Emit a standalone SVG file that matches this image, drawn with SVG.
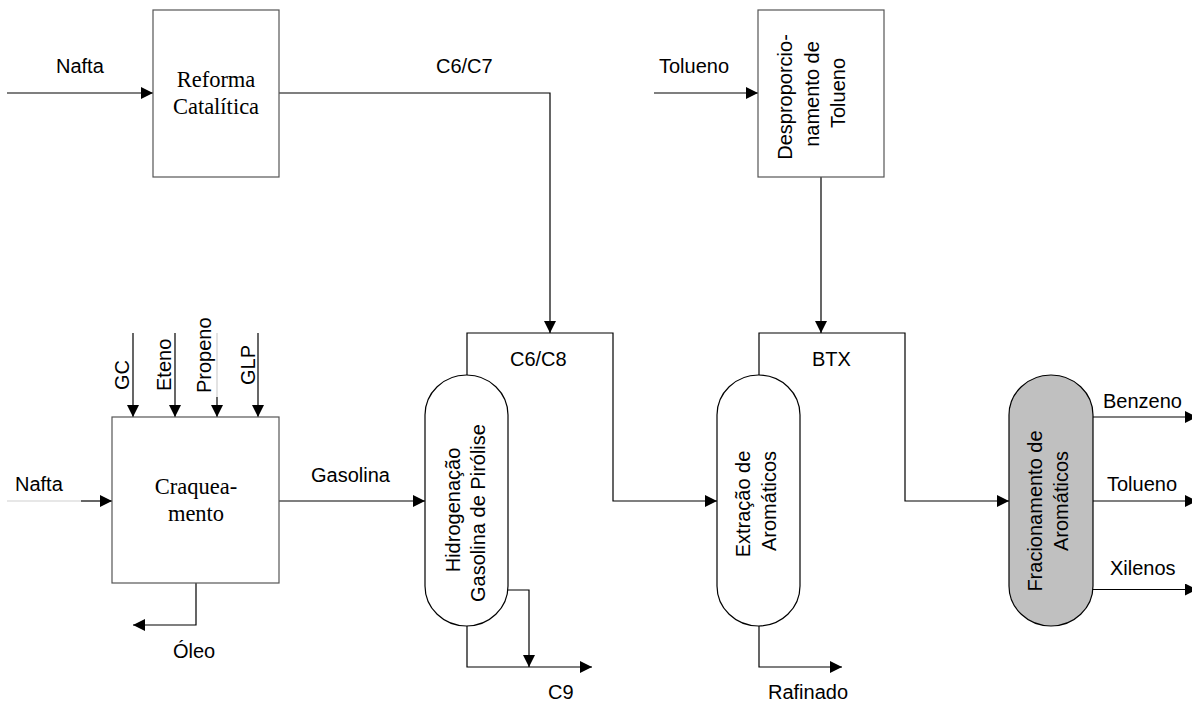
<svg xmlns="http://www.w3.org/2000/svg" width="1192" height="704" viewBox="0 0 1192 704">
  <defs>
    <marker id="arrow" viewBox="0 0 12 12" refX="12" refY="6" markerWidth="12" markerHeight="12" markerUnits="userSpaceOnUse" orient="auto">
      <path d="M0,0 L12,6 L0,12 z" fill="#000"/>
    </marker>
    <style>
      .box { fill: #fff; stroke: #555; stroke-width: 1.2; }
      .pill { fill: #fff; stroke: #000; stroke-width: 1.2; }
      .pill.grey { fill: #c0c0c0; }
      .flow { fill: none; stroke: #000; stroke-width: 1.2; }
      .faint { fill: none; stroke: #d0d0d0; stroke-width: 1.2; }
      .arr { marker-end: url(#arrow); }
      .lbl { font-family: "Liberation Sans", Arial, sans-serif; font-size: 20px; fill: #000; }
      .serif { font-family: "Liberation Serif", "Times New Roman", serif; font-size: 22.5px; fill: #000; text-anchor: middle; }
      .mid { text-anchor: middle; }
    </style>
  </defs>
  <rect width="1192" height="704" fill="#fff"/>

  <!-- process streams -->
  <g id="connectors">
    <path class="flow arr" d="M7,93 H153"/>
    <path class="flow arr" d="M279,93 H550 V333"/>
    <path class="flow arr" d="M654,93 H758"/>
    <path class="flow arr" d="M821,177 V333"/>
    <path class="flow arr" d="M133,333 V417"/>
    <path class="flow arr" d="M175,333 V417"/>
    <path class="faint" d="M217,333 V397"/>
    <path class="flow arr" d="M217,397 V417"/>
    <path class="flow arr" d="M258,333 V417"/>
    <path class="faint" d="M7,501 H81"/>
    <path class="flow arr" d="M81,501 H112"/>
    <path class="flow arr" d="M196,583 V625 H133"/>
    <path class="flow arr" d="M279,501 H425"/>
    <path class="flow arr" d="M467,375 V333 H613 V501 H717"/>
    <path class="flow arr" d="M467,626 V667 H592"/>
    <path class="flow arr" d="M508,590 H529 V667"/>
    <path class="flow arr" d="M759,375 V333 H905 V501 H1009"/>
    <path class="flow arr" d="M759,626 V667 H842"/>
    <path class="flow arr" d="M1093,417 H1197"/>
    <path class="flow arr" d="M1093,501 H1197"/>
    <path class="flow arr" d="M1093,589.5 H1197"/>
  </g>

  <!-- stream labels -->
  <g id="stream-labels" class="lbl">
    <text x="56" y="73">Nafta</text>
    <text x="436" y="73">C6/C7</text>
    <text x="659" y="73">Tolueno</text>
    <text x="15" y="491">Nafta</text>
    <text x="311" y="482">Gasolina</text>
    <text x="173" y="658">Óleo</text>
    <text x="510" y="366">C6/C8</text>
    <text x="812" y="366">BTX</text>
    <text x="548" y="699">C9</text>
    <text x="768" y="699">Rafinado</text>
    <text x="1103" y="408">Benzeno</text>
    <text x="1107" y="491">Tolueno</text>
    <text x="1110" y="575">Xilenos</text>
    <text transform="translate(129,390) rotate(-90)">GC</text>
    <text transform="translate(171,391) rotate(-90)">Eteno</text>
    <text transform="translate(211,393) rotate(-90)">Propeno</text>
    <text transform="translate(255,385) rotate(-90)">GLP</text>
  </g>

  <g id="reforma-catalitica">
    <rect class="box" x="153" y="10" width="126" height="167"/>
    <text class="serif" x="216" y="87">Reforma</text>
    <text class="serif" x="216" y="114">Catalítica</text>
  </g>

  <g id="desproporcionamento">
    <rect class="box" x="758" y="10" width="126" height="167"/>
    <g class="lbl mid">
      <text transform="translate(792,97) rotate(-90)">Desproporcio-</text>
      <text transform="translate(819,94) rotate(-90)">namento de</text>
      <text transform="translate(845,93) rotate(-90)">Tolueno</text>
    </g>
  </g>

  <g id="craqueamento">
    <rect class="box" x="112" y="417" width="167" height="166"/>
    <text class="serif" x="196" y="494">Craquea-</text>
    <text class="serif" x="196" y="521">mento</text>
  </g>

  <g id="hidrogenacao">
    <rect class="pill" x="425" y="375" width="83" height="251" rx="41.5" ry="40"/>
    <g class="lbl mid">
      <text transform="translate(460,510) rotate(-90)">Hidrogenação</text>
      <text transform="translate(485,513) rotate(-90)">Gasolina de Pirólise</text>
    </g>
  </g>

  <g id="extracao">
    <rect class="pill" x="717" y="375" width="83" height="251" rx="41.5" ry="40"/>
    <g class="lbl mid">
      <text transform="translate(750,504) rotate(-90)">Extração de</text>
      <text transform="translate(776,501) rotate(-90)">Aromáticos</text>
    </g>
  </g>

  <g id="fracionamento">
    <rect class="pill grey" x="1009" y="375" width="84" height="251" rx="42" ry="40"/>
    <g class="lbl mid">
      <text transform="translate(1042,511) rotate(-90)">Fracionamento de</text>
      <text transform="translate(1068,501) rotate(-90)">Aromáticos</text>
    </g>
  </g>
</svg>
